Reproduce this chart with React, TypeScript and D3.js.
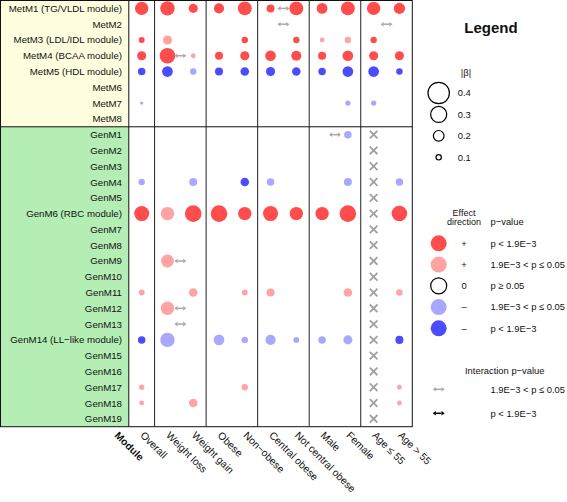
import React from 'react';
import * as d3 from 'd3';

const metRows = ['MetM1 (TG/VLDL module)', 'MetM2', 'MetM3 (LDL/IDL module)', 'MetM4 (BCAA module)', 'MetM5 (HDL module)', 'MetM6', 'MetM7', 'MetM8'];
const genRows = ['GenM1', 'GenM2', 'GenM3', 'GenM4', 'GenM5', 'GenM6 (RBC module)', 'GenM7', 'GenM8', 'GenM9', 'GenM10', 'GenM11', 'GenM12', 'GenM13', 'GenM14 (LL−like module)', 'GenM15', 'GenM16', 'GenM17', 'GenM18', 'GenM19'];
const rowLabels = [...metRows, ...genRows];
const rowKeys = rowLabels.map(l => l.split(' ')[0]);

const columns = ['Overall', 'Weight loss', 'Weight gain', 'Obese', 'Non−obese', 'Central obese', 'Not central obese', 'Male', 'Female', 'Age ≤ 55', 'Age > 55'];
const groupEnds = [0, 2, 4, 6, 8];

// [module, column index, |beta|, direction, significance] ; 's' = p < 1.9E-3, 'w' = 1.9E-3 < p <= 0.05
const effects: [string, number, number, string, string][] = [
  ['MetM1', 0, 0.25, '+', 's'], ['MetM1', 1, 0.27, '+', 's'], ['MetM1', 2, 0.17, '+', 's'], ['MetM1', 3, 0.19, '+', 's'],
  ['MetM1', 4, 0.26, '+', 's'], ['MetM1', 5, 0.15, '+', 's'], ['MetM1', 6, 0.26, '+', 's'], ['MetM1', 7, 0.2, '+', 's'],
  ['MetM1', 8, 0.26, '+', 's'], ['MetM1', 9, 0.25, '+', 's'], ['MetM1', 10, 0.21, '+', 's'],
  ['MetM3', 0, 0.11, '+', 's'], ['MetM3', 1, 0.17, '+', 'w'], ['MetM3', 4, 0.12, '+', 's'], ['MetM3', 6, 0.12, '+', 's'],
  ['MetM3', 7, 0.09, '+', 'w'], ['MetM3', 8, 0.12, '+', 'w'], ['MetM3', 9, 0.12, '+', 's'],
  ['MetM4', 0, 0.17, '+', 's'], ['MetM4', 1, 0.29, '+', 's'], ['MetM4', 2, 0.09, '+', 'w'], ['MetM4', 3, 0.15, '+', 's'],
  ['MetM4', 4, 0.17, '+', 's'], ['MetM4', 5, 0.2, '+', 's'], ['MetM4', 6, 0.19, '+', 's'], ['MetM4', 7, 0.15, '+', 's'],
  ['MetM4', 8, 0.2, '+', 's'], ['MetM4', 9, 0.17, '+', 's'], ['MetM4', 10, 0.17, '+', 's'],
  ['MetM5', 0, 0.14, '-', 's'], ['MetM5', 1, 0.2, '-', 's'], ['MetM5', 2, 0.12, '-', 'w'], ['MetM5', 3, 0.15, '-', 's'],
  ['MetM5', 4, 0.16, '-', 's'], ['MetM5', 5, 0.17, '-', 's'], ['MetM5', 6, 0.16, '-', 's'], ['MetM5', 7, 0.14, '-', 's'],
  ['MetM5', 8, 0.2, '-', 's'], ['MetM5', 9, 0.2, '-', 's'], ['MetM5', 10, 0.12, '-', 's'],
  ['MetM7', 0, 0.06, '-', 'w'], ['MetM7', 8, 0.1, '-', 'w'], ['MetM7', 9, 0.1, '-', 'w'],
  ['GenM1', 8, 0.14, '-', 'w'],
  ['GenM4', 0, 0.12, '-', 'w'], ['GenM4', 2, 0.15, '-', 'w'], ['GenM4', 4, 0.16, '-', 's'], ['GenM4', 5, 0.14, '-', 'w'],
  ['GenM4', 8, 0.15, '-', 'w'], ['GenM4', 10, 0.14, '-', 'w'],
  ['GenM6', 0, 0.28, '+', 's'], ['GenM6', 1, 0.25, '+', 'w'], ['GenM6', 2, 0.31, '+', 's'], ['GenM6', 3, 0.31, '+', 's'],
  ['GenM6', 4, 0.25, '+', 's'], ['GenM6', 5, 0.28, '+', 's'], ['GenM6', 6, 0.25, '+', 's'], ['GenM6', 7, 0.25, '+', 's'],
  ['GenM6', 8, 0.31, '+', 's'], ['GenM6', 10, 0.29, '+', 's'],
  ['GenM9', 1, 0.24, '+', 'w'],
  ['GenM11', 0, 0.11, '+', 'w'], ['GenM11', 2, 0.16, '+', 'w'], ['GenM11', 4, 0.11, '+', 'w'], ['GenM11', 5, 0.15, '+', 'w'],
  ['GenM11', 8, 0.16, '+', 'w'], ['GenM11', 10, 0.12, '+', 'w'],
  ['GenM12', 1, 0.25, '+', 'w'],
  ['GenM14', 0, 0.14, '-', 's'], ['GenM14', 1, 0.27, '-', 'w'], ['GenM14', 3, 0.2, '-', 'w'], ['GenM14', 4, 0.12, '-', 'w'],
  ['GenM14', 5, 0.19, '-', 'w'], ['GenM14', 6, 0.11, '-', 'w'], ['GenM14', 7, 0.14, '-', 'w'], ['GenM14', 8, 0.17, '-', 'w'],
  ['GenM14', 10, 0.15, '-', 's'],
  ['GenM17', 0, 0.1, '+', 'w'], ['GenM17', 4, 0.12, '+', 'w'], ['GenM17', 10, 0.09, '+', 'w'],
  ['GenM18', 0, 0.09, '+', 'w'], ['GenM18', 2, 0.16, '+', 'w'], ['GenM18', 10, 0.09, '+', 'w'],
];

// [module, left column of the compared pair, interaction level]
const interactions: [string, number, string][] = [
  ['MetM1', 5, 'w'], ['MetM2', 5, 'w'], ['MetM2', 9, 'w'], ['MetM4', 1, 'w'],
  ['GenM1', 7, 'w'], ['GenM9', 1, 'w'], ['GenM12', 1, 'w'], ['GenM13', 1, 'w'],
];

// column not tested for genetic modules
const notTestedColumn = 9;

const sizeTicks = [0.4, 0.3, 0.2, 0.1];
const colourLegend = [
  { dir: '+', sig: 's', label: 'p < 1.9E−3' },
  { dir: '+', sig: 'w', label: '1.9E−3 < p ≤ 0.05' },
  { dir: '0', sig: 'n', label: 'p ≥ 0.05' },
  { dir: '–', sig: 'w', label: '1.9E−3 < p ≤ 0.05' },
  { dir: '–', sig: 's', label: 'p < 1.9E−3' },
];
const interactionLegend = [
  { sig: 'w', label: '1.9E−3 < p ≤ 0.05' },
  { sig: 's', label: 'p < 1.9E−3' },
];

const FONT = 'Liberation Sans, Arial, Helvetica, sans-serif';

function colorOf(dir: string, sig: string) {
  if (dir === '+') return sig === 's' ? 'rgb(255,76,76)' : 'rgb(255,163,163)';
  return sig === 's' ? 'rgb(76,76,255)' : 'rgb(168,168,255)';
}

function Arrow({ cx, cy, color }: { cx: number; cy: number; color: string }) {
  const half = 6;
  const head = 3.2;
  const hw = 2.3;
  return (
    <g>
      <line x1={cx - half + head} x2={cx + half - head} y1={cy} y2={cy} stroke={color} strokeWidth={1.5} />
      <path d={`M${cx - half},${cy} L${cx - half + head},${cy - hw} L${cx - half + head},${cy + hw} Z`} fill={color} />
      <path d={`M${cx + half},${cy} L${cx + half - head},${cy - hw} L${cx + half - head},${cy + hw} Z`} fill={color} />
    </g>
  );
}

export default function App() {
  const W = 567, H = 502;
  const left = 0.5, top = 0.5, labelRight = 128.8, gridRight = 412.3, bottom = 426.7;
  const x = d3.scaleBand<number>().domain(d3.range(columns.length)).range([labelRight, gridRight]);
  const y = d3.scaleBand<number>().domain(d3.range(rowLabels.length)).range([top, bottom]);
  const r = d3.scaleLinear().domain([0, 0.4]).range([0, 10.7]);
  const cx = (i: number) => (x(i) as number) + x.bandwidth() / 2;
  const cy = (i: number) => (y(i) as number) + y.bandwidth() / 2;
  const sepY = y(metRows.length) as number;

  const lx = 438.7;
  const sizeY = d3.scaleLinear().domain([0.4, 0.1]).range([93, 157.3]);
  const colY = d3.scaleLinear().domain([0, 4]).range([243.3, 328.3]);
  const intY = d3.scaleLinear().domain([0, 1]).range([389.3, 413.3]);
  const LF = 9.4;

  return (
    <svg width={W} height={H} style={{ position: 'absolute', left: 0, top: 0, background: '#fff' }} fontFamily={FONT}>
      {/* label panels */}
      <rect x={left} y={top} width={labelRight - left} height={sepY - top} fill="rgb(255,255,224)" />
      <rect x={left} y={sepY} width={labelRight - left} height={bottom - sepY} fill="rgb(180,238,180)" />
      {rowLabels.map((l, i) => (
        <text key={l} x={122} y={cy(i) + 3.5} fontSize={9.7} textAnchor="end" fill="#111">{l}</text>
      ))}
      {/* group separators */}
      <line x1={labelRight} x2={labelRight} y1={top} y2={bottom} stroke="#111" strokeWidth={1} />
      {groupEnds.map(g => {
        const xx = (x(g) as number) + x.bandwidth();
        return <line key={g} x1={xx} x2={xx} y1={top} y2={bottom} stroke="#222" strokeWidth={1} />;
      })}
      <line x1={left} x2={gridRight} y1={sepY} y2={sepY} stroke="#111" strokeWidth={1} />
      <rect x={left} y={top} width={gridRight - left} height={bottom - top} fill="none" stroke="#111" strokeWidth={1} />

      {/* not tested crosses */}
      {genRows.map((g, j) => {
        const i = metRows.length + j;
        const X = cx(notTestedColumn), Y = cy(i), s = 3.8;
        return (
          <g key={g} stroke="#a0a0a0" strokeWidth={1.8}>
            <line x1={X - s} x2={X + s} y1={Y - s} y2={Y + s} />
            <line x1={X - s} x2={X + s} y1={Y + s} y2={Y - s} />
          </g>
        );
      })}

      {/* effects */}
      {effects.map(([m, c, b, d, s], k) => (
        <circle key={k} cx={cx(c)} cy={cy(rowKeys.indexOf(m))} r={r(b)} fill={colorOf(d, s)} />
      ))}

      {/* interactions */}
      {interactions.map(([m, c, s], k) => (
        <Arrow key={k} cx={(x(c) as number) + x.bandwidth()} cy={cy(rowKeys.indexOf(m))} color={s === 's' ? '#000' : '#a8a8a8'} />
      ))}

      {/* column labels */}
      <text transform={`translate(114,436) rotate(45)`} fontSize={10.3} fontWeight="bold" fill="#111">Module</text>
      {columns.map((c, i) => (
        <text key={c} transform={`translate(${cx(i) - 2},436) rotate(45)`} fontSize={10.3} fill="#111">{c}</text>
      ))}

      {/* legend */}
      <text x={491} y={33} fontSize={15} fontWeight="bold" textAnchor="middle" fill="#111">Legend</text>
      <text x={466} y={75.5} fontSize={LF} textAnchor="middle" fill="#111">|β|</text>
      {sizeTicks.map(t => (
        <g key={t}>
          <circle cx={lx} cy={sizeY(t)} r={r(t)} fill="none" stroke="#000" strokeWidth={1.2} />
          <text x={457.7} y={sizeY(t) + 3.4} fontSize={LF} fill="#111">{t.toFixed(1)}</text>
        </g>
      ))}
      <text x={464} y={215.8} fontSize={9} textAnchor="middle" fill="#111">Effect</text>
      <text x={464} y={225.3} fontSize={9} textAnchor="middle" fill="#111">direction</text>
      <text x={490.5} y={225.3} fontSize={LF} fill="#111">p−value</text>
      {colourLegend.map((e, i) => (
        <g key={i}>
          {e.sig === 'n'
            ? <circle cx={lx} cy={colY(i)} r={8} fill="none" stroke="#000" strokeWidth={1.2} />
            : <circle cx={lx} cy={colY(i)} r={8} fill={colorOf(e.dir === '+' ? '+' : '-', e.sig)} />}
          <text x={464} y={colY(i) + 3.4} fontSize={LF} textAnchor="middle" fill="#111">{e.dir}</text>
          <text x={490.5} y={colY(i) + 3.4} fontSize={LF} fill="#111">{e.label}</text>
        </g>
      ))}
      <text x={465} y={374} fontSize={LF} fill="#111">Interaction p−value</text>
      {interactionLegend.map((e, i) => (
        <g key={i}>
          <Arrow cx={lx} cy={intY(i)} color={e.sig === 's' ? '#000' : '#a8a8a8'} />
          <text x={490.5} y={intY(i) + 3.4} fontSize={LF} fill="#111">{e.label}</text>
        </g>
      ))}
    </svg>
  );
}
